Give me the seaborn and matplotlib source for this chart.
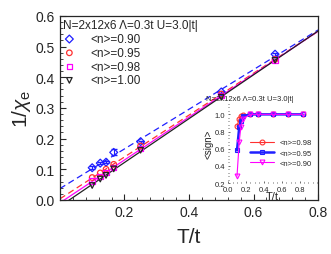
import matplotlib
matplotlib.use("Agg")
import matplotlib.pyplot as plt
import seaborn as sns
import pandas as pd
from matplotlib.ticker import MultipleLocator

sns.set_style("ticks")
plt.rcParams["font.family"] = ["Liberation Sans", "DejaVu Sans"]
plt.rcParams["mathtext.fontset"] = "custom"
plt.rcParams["mathtext.rm"] = "Liberation Sans"
plt.rcParams["mathtext.it"] = "Liberation Sans:italic"

# main panel data: 1/chi_e vs T/t
temps = [0.1, 0.125, 0.1429, 0.1667, 0.25, 0.5, 0.6667]
inv_chi_090 = [0.105, 0.120, 0.123, 0.155, 0.190, 0.352, 0.475]
err_090 = [0.004, 0.003, 0.003, 0.010, 0.003, 0.004, 0.005]
inv_chi_095 = [0.073, 0.088, 0.100, 0.116, 0.176, 0.345, 0.458]
inv_chi_098 = [0.062, 0.076, 0.090, 0.105, 0.168, 0.340, 0.456]
inv_chi_100 = [0.047, 0.068, 0.080, 0.101, 0.162, 0.335, 0.455]
fillings = ["<n>=0.90", "<n>=0.95", "<n>=0.98", "<n>=1.00"]

# inset data: average sign vs T/t
temps_sign = [0.1, 0.125, 0.1429, 0.1667, 0.25, 0.3333, 0.5, 0.6667, 0.8333]
sign_098 = [0.86, 0.95, 0.98, 0.99, 1.0, 1.0, 1.0, 1.0, 1.0]
sign_095 = [0.58, 0.85, 0.92, 0.98, 1.0, 1.0, 1.0, 1.0, 1.0]
sign_090 = [0.28, 0.68, 0.85, 0.95, 1.0, 1.0, 1.0, 1.0, 1.0]

fig = plt.figure(figsize=(3.31, 2.55), dpi=100)
ax = fig.add_axes([0.181, 0.212, 0.78, 0.722])
ax.set_xlim(0, 0.8)
ax.set_ylim(0, 0.6)

series = [
    (inv_chi_090, "#1f1fff", "D", (0, (5, 3))),
    (inv_chi_095, "#ff3030", "o", (0, (5, 3))),
    (inv_chi_098, "#ff00ff", "s", "-"),
    (inv_chi_100, "#222222", "v", "-"),
]
handles = []
for (vals, col, mk, ls), lab in zip(series, fillings):
    df = pd.DataFrame({"T": temps, "y": vals})
    # linear fit drawn across the whole axis
    sns.regplot(data=df, x="T", y="y", ax=ax, ci=None, truncate=False,
                scatter=False, line_kws=dict(color=col, lw=0.9, ls=ls))
    h = ax.scatter(df["T"], df["y"], marker=mk, s=16, facecolors="none",
                   edgecolors=col, linewidths=0.9, zorder=4, label=lab)
    handles.append(h)
ax.errorbar(temps, inv_chi_090, yerr=err_090, fmt="none", ecolor="#1f1fff",
            elinewidth=0.8, capsize=2, zorder=3)

ax.set_xlim(0, 0.8)
ax.set_ylim(0, 0.6)
ax.xaxis.set_major_locator(MultipleLocator(0.2))
ax.xaxis.set_minor_locator(MultipleLocator(0.04))
ax.yaxis.set_major_locator(MultipleLocator(0.1))
ax.yaxis.set_minor_locator(MultipleLocator(0.02))
ax.tick_params(which="both", direction="in", top=False, right=False)
ax.tick_params(which="major", length=4, labelsize=10)
ax.tick_params(which="minor", length=2)
ax.set_xticks([0.2, 0.4, 0.6, 0.8])
ax.set_xlabel("T/t", fontsize=15, labelpad=6)
ax.set_ylabel(r"$1/\chi_{\rm e}$", fontsize=15, labelpad=2)
for sp in ax.spines.values():
    sp.set_linewidth(0.9)

leg = ax.legend(handles=handles, loc="upper left", frameon=False,
                title="N=2x12x6 \u039b=0.3t U=3.0|t|", title_fontsize=8.5,
                fontsize=8.5, handlelength=1.0, handletextpad=1.3,
                labelspacing=0.15, borderaxespad=0.1, borderpad=0.2)
leg._legend_box.align = "left"

# inset with average sign
ins = fig.add_axes([0.689, 0.278, 0.27, 0.31])
ins.patch.set_facecolor("white")
inset_series = [
    (sign_098, "#ff3030", "o", 0.8, "<n>=0.98"),
    (sign_095, "#2020ff", "s", 1.8, "<n>=0.95"),
    (sign_090, "#ff00ff", "v", 0.8, "<n>=0.90"),
]
for vals, col, mk, lw, lab in inset_series:
    sns.lineplot(x=temps_sign, y=vals, ax=ins, color=col, lw=lw,
                 marker=mk, markersize=3.5, markerfacecolor="none",
                 markeredgecolor=col, markeredgewidth=0.8, label=lab)
ins.set_xlim(0, 1.0)
ins.set_ylim(0.2, 1.12)
ins.xaxis.set_minor_locator(MultipleLocator(0.05))
ins.yaxis.set_minor_locator(MultipleLocator(0.04))
ins.set_xticks([0.0, 0.2, 0.4, 0.6, 0.8])
ins.set_yticks([0.2, 0.4, 0.6, 0.8, 1.0])
ins.tick_params(which="both", direction="in", labelsize=5.5, pad=2,
                color="#555555", width=0.6)
ins.tick_params(which="major", length=1.5)
ins.tick_params(which="minor", length=1.0)
for sp in ins.spines.values():
    sp.set_visible(False)
ins.set_xlabel("T/t", fontsize=8, labelpad=-1)
ins.set_ylabel("<sign>", fontsize=7, labelpad=1)
ins.text(-0.25, 1.02, "N=2x12x6 \u039b=0.3t U=3.0|t|", transform=ins.transAxes,
         fontsize=5.5, ha="left", va="bottom")
ins.legend(loc="center right", frameon=False, fontsize=5.5,
           handlelength=3.2, handletextpad=0.8, labelspacing=0.4,
           bbox_to_anchor=(1.02, 0.38))

fig.savefig("out.png", dpi=100)
